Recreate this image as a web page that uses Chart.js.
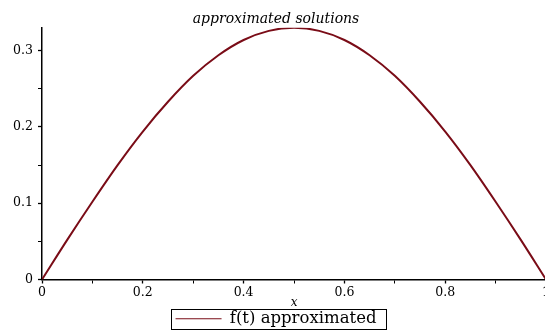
<!DOCTYPE html>
<html>
<head>
<meta charset="utf-8">
<title>approximated solutions</title>
<script src="https://cdn.jsdelivr.net/npm/chart.js@4.4.1/dist/chart.umd.min.js"></script>
<style>
  html, body { margin: 0; padding: 0; background: #fff; overflow: hidden; }
  #wrap { width: 552px; height: 330px; position: relative; }
</style>
</head>
<body>
<div id="wrap"><canvas id="myChart"></canvas></div>
<script>
// values
const xs = [0, 0.05, 0.1, 0.15, 0.2, 0.25, 0.3, 0.35, 0.4, 0.45, 0.5,
  0.55, 0.6, 0.65, 0.7, 0.75, 0.8, 0.85, 0.9, 0.95, 1]
const ys = [0, 0.052, 0.102, 0.150, 0.194, 0.233, 0.267, 0.294, 0.314, 0.326, 0.330,
  0.326, 0.314, 0.294, 0.267, 0.233, 0.194, 0.150, 0.102, 0.052, 0]
const seriesName = 'f(t) approximated'
const chartTitle = 'approximated solutions'
const xTickLabels = ['0', '0.2', '0.4', '0.6', '0.8', '1']
const yTickLabels = ['0', '0.1', '0.2', '0.3']

const lineColor = '#7a0c17'
const serif = "'DejaVu Serif', 'Liberation Serif', serif"

function isMajor(v) {
  return Math.round(v * 100) % 10 === 0
}

// box round the legend, like the original
const legendBox = {
  id: 'legendBox',
  afterDraw(chart) {
    const hb = chart.legend && chart.legend.legendHitBoxes && chart.legend.legendHitBoxes[0]
    if (!hb) return
    const ctx = chart.ctx
    ctx.save()
    ctx.strokeStyle = '#000'
    ctx.lineWidth = 1
    ctx.strokeRect(Math.round(hb.left - 5) + 0.5, Math.round(hb.top - 2) + 0.5,
      Math.round(hb.width + 14), Math.round(hb.height + 3))
    ctx.restore()
  }
}

const ctx = document.getElementById('myChart')
const myChart = new Chart(ctx, {
  type: 'line',
  data: {
    datasets: [{
      label: seriesName,
      data: xs.map((x, i) => ({ x: x, y: ys[i] })),
      borderColor: lineColor,
      backgroundColor: lineColor,
      borderWidth: 2,
      pointRadius: 0,
      cubicInterpolationMode: 'monotone',
      fill: false
    }]
  },
  options: {
    responsive: true,
    maintainAspectRatio: false,
    animation: false,
    layout: { padding: { bottom: -7 } },
    plugins: {
      title: {
        display: true,
        text: chartTitle,
        color: '#000',
        font: { family: serif, style: 'italic', size: 14, weight: 'normal' },
        padding: { top: 11, bottom: 0 }
      },
      legend: {
        position: 'bottom',
        labels: {
          color: '#000',
          font: { family: serif, size: 16.5 },
          usePointStyle: true,
          pointStyleWidth: 46,
          padding: 3,
          generateLabels(chart) {
            return Chart.defaults.plugins.legend.labels.generateLabels(chart)
              .map(l => Object.assign(l, { lineWidth: 1.2, pointStyle: 'line' }))
          }
        }
      },
      tooltip: { enabled: false }
    },
    scales: {
      x: {
        type: 'linear',
        min: 0,
        max: 1,
        afterFit(scale) { scale.height = 28 },
        ticks: {
          stepSize: 0.1,
          color: '#000',
          font: { family: serif, size: 12.5 },
          padding: 2,
          maxRotation: 0,
          autoSkip: false,
          callback(v) {
            return isMajor(v * 0.5) ? xTickLabels[Math.round(v * 5)] : ''
          }
        },
        grid: {
          drawOnChartArea: false,
          tickLength: 4,
          tickColor: '#000',
          tickWidth: c => isMajor(c.tick.value * 0.5) ? 1.3 : 1
        },
        border: { color: '#000', width: 1.5 },
        title: {
          display: true,
          text: 'x',
          color: '#000',
          font: { family: serif, style: 'italic', size: 12 },
          padding: { top: 0, bottom: -3 }
        }
      },
      y: {
        min: 0,
        max: 0.33,
        afterFit(scale) { scale.width = 42 },
        ticks: {
          stepSize: 0.05,
          includeBounds: false,
          color: '#000',
          font: { family: serif, size: 12.5 },
          padding: 5,
          autoSkip: false,
          callback(v) {
            return isMajor(v) ? yTickLabels[Math.round(v * 10)] : ''
          }
        },
        grid: {
          drawOnChartArea: false,
          tickLength: 4,
          tickColor: '#000',
          tickWidth: c => isMajor(c.tick.value) ? 1.3 : 1
        },
        border: { color: '#000', width: 1.5 }
      }
    }
  },
  plugins: [legendBox]
})
</script>
</body>
</html>
